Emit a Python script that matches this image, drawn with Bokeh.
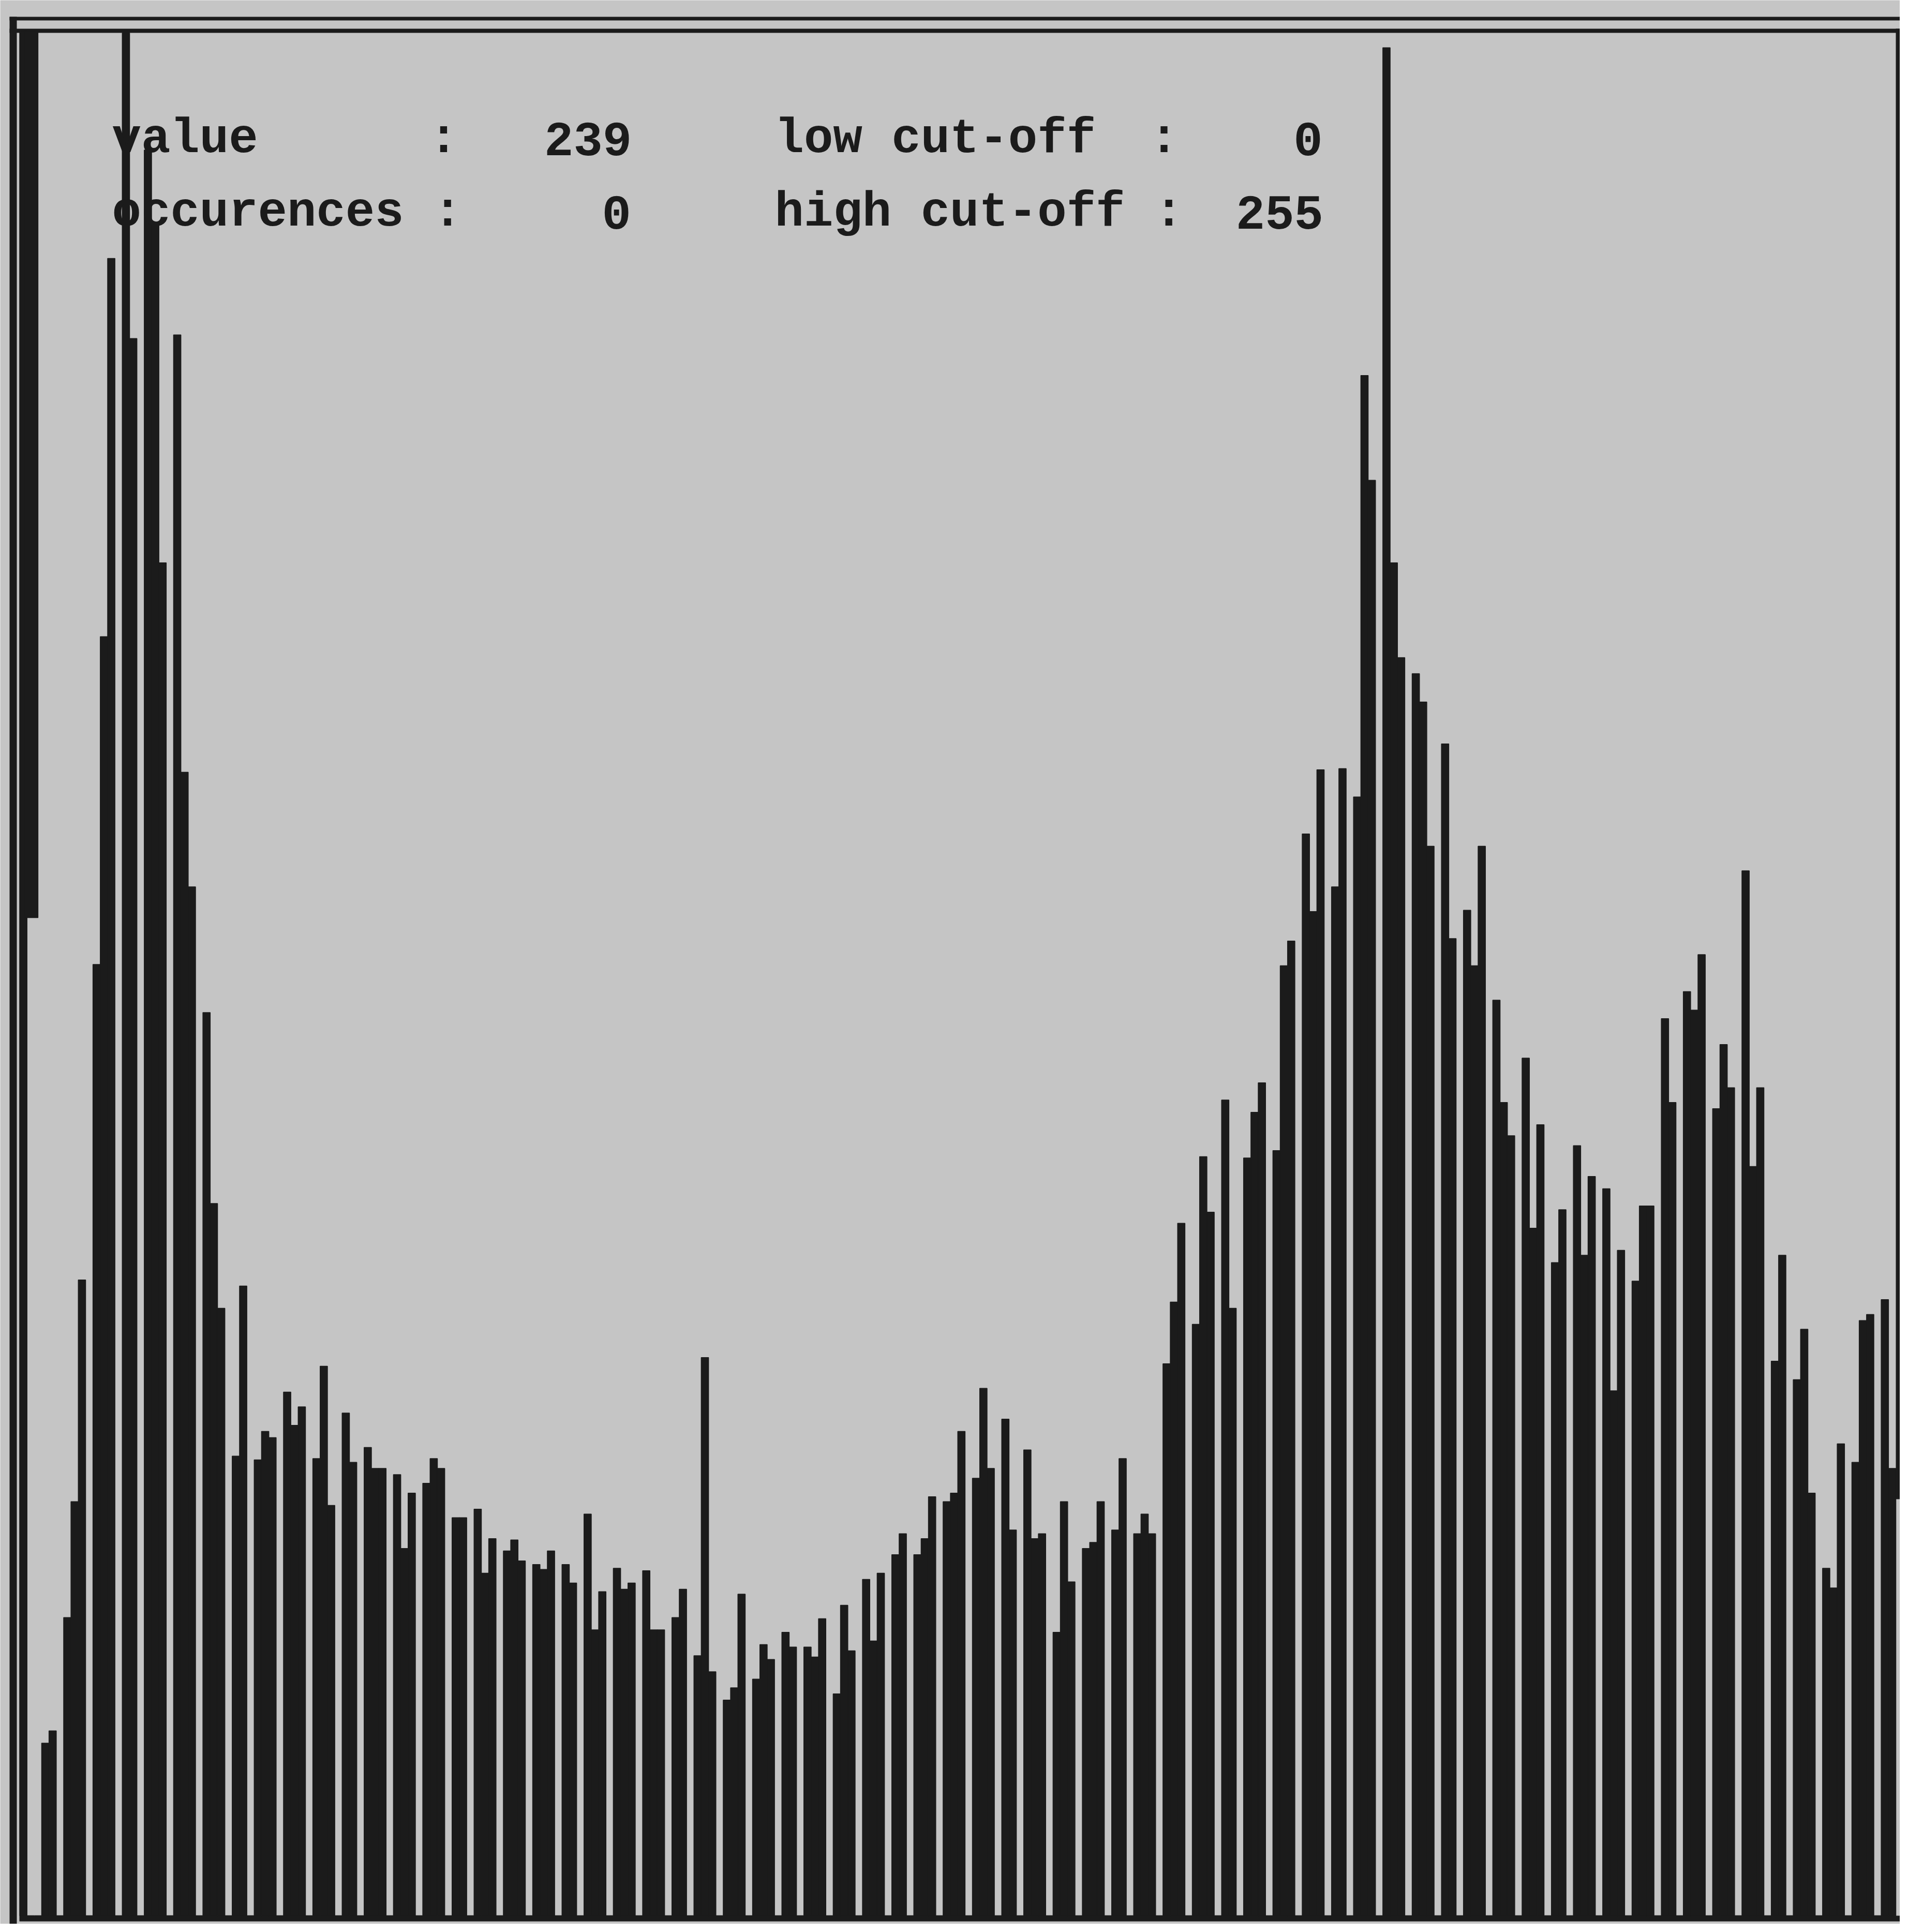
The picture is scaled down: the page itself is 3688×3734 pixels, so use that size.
import re
from bokeh.plotting import figure
from bokeh.models import Range1d, Label
from bokeh.embed import file_html
from bokeh.resources import INLINE

# ---------------- data ----------------
# grey-level histogram, 256 bins.  Bin 0 is off the scale, bin 1 overflows
# (drawn hanging from the top), bin 2 is empty.  After that the non-empty
# runs below are each followed by one empty bin (stretched histogram).
first_bins = [1530, 0, 0]
runs = [
    [140, 150], [242, 336, 516], [772, 1038, 1345], [1528, 1280],
    [1433, 1373, 1098], [1283, 928, 835], [733, 578, 493], [373, 511],
    [370, 393, 388], [425, 398, 413], [371, 446, 333], [408, 368],
    [380, 363, 363], [358, 298, 343], [351, 371, 363], [323, 323],
    [330, 278, 306], [296, 305, 288], [285, 281, 296], [285, 270],
    [326, 232, 263], [282, 265, 270], [280, 232, 232], [242, 265],
    [211, 453, 198], [175, 185, 261], [192, 220, 208], [230, 218],
    [218, 210, 241], [180, 252, 215], [273, 223, 278], [293, 310],
    [293, 306, 340], [336, 343, 393], [355, 428, 363], [403, 313],
    [378, 306, 310], [230, 336, 271], [298, 303, 336], [313, 371],
    [310, 326, 310], [448, 498, 562], [480, 616, 571], [662, 493],
    [615, 652, 676], [621, 771, 791], [878, 815, 930], [835, 931],
    [908, 1250, 1165], [1516, 1098, 1021], [1008, 985, 868], [951, 793],
    [816, 771, 868], [743, 660, 633], [696, 558, 642], [530, 573],
    [625, 536, 600], [590, 426, 540], [515, 576, 576], [728, 660],
    [750, 735, 780], [655, 707, 672], [848, 608, 672], [450, 536],
    [435, 476, 343], [282, 266, 383], [368, 483, 488], [500, 363],
]
overflow_bins = [1]
overflow_low = [810]          # overflow bar hangs from the top down to here

info_lines = [
    "value      :   239     low cut-off  :    0",
    "occurences :     0     high cut-off :  255",
]

counts = list(first_bins)
for k, r in enumerate(runs):
    counts += r
    if k < len(runs) - 1:
        counts.append(0)
bins = list(range(len(counts)))

# ---------------- geometry ----------------
W, H = 3672, 3718              # canvas; page margin 8px
BG = "#c5c5c5"
INK = "#1b1b1b"
X0_PX, BIN_PX = 45.5, 14.166   # page px of bin 0 left edge, px per bin
BASE_PX, UNIT_PX = 3710.0, 2.3814


def dx(px):
    return (px - X0_PX) / BIN_PX


def dy(py):
    return (BASE_PX - py) / UNIT_PX


p = figure(width=W, height=H, output_backend="svg", toolbar_location=None,
           x_axis_type=None, y_axis_type=None, min_border=0,
           x_range=Range1d(dx(8), dx(8 + W)), y_range=Range1d(dy(8 + H), dy(8)))
p.grid.visible = False
p.outline_line_color = None
p.background_fill_color = BG
p.border_fill_color = BG

# frame (double line)
TOP_IN = 68
p.quad(left=[dx(26), dx(26), dx(26), dx(45), dx(45)],
       right=[dx(3700), dx(3700), dx(40), dx(3700), dx(3700)],
       top=[dy(40), dy(63), dy(40), dy(3710), dy(3727)],
       bottom=[dy(47), dy(71), dy(3740), dy(3721), dy(3740)],
       fill_color=INK, line_color=None)
# fragment of the right edge visible in the photo
p.quad(left=[dx(3672)], right=[dx(3700)], top=[dy(63)], bottom=[dy(2905)],
       fill_color=INK, line_color=None)

# histogram bars
tops = [min(c, dy(TOP_IN)) for c in counts]
p.quad(left=bins, right=[b + 1 for b in bins], bottom=0, top=tops,
       fill_color=INK, line_color=INK, line_width=1.5)
# overflowing bar(s), drawn from the top down
p.quad(left=[b - 0.4 for b in overflow_bins], right=[b + 1.5 for b in overflow_bins],
       top=dy(TOP_IN), bottom=overflow_low,
       fill_color=INK, line_color=INK, line_width=1.5)

# read-out text, monospaced columns (tokens placed at their character column)
TXT_X, CHAR_PX = 224, 55.7
for line, base in zip(info_lines, (276, 418)):
    for m in re.finditer(r"\S+(?: \S+)*", line):
        p.add_layout(Label(x=dx(TXT_X + m.start() * CHAR_PX), y=dy(base),
                           text=m.group(0),
                           text_font="Liberation Mono", text_font_style="bold",
                           text_font_size="94px", text_color=INK,
                           text_baseline="alphabetic", text_align="left"))

html = file_html(p, INLINE)
html = html.replace("<body>", '<body style="background-color:#c5c5c5;">', 1)
open("out.html", "w").write(html)
